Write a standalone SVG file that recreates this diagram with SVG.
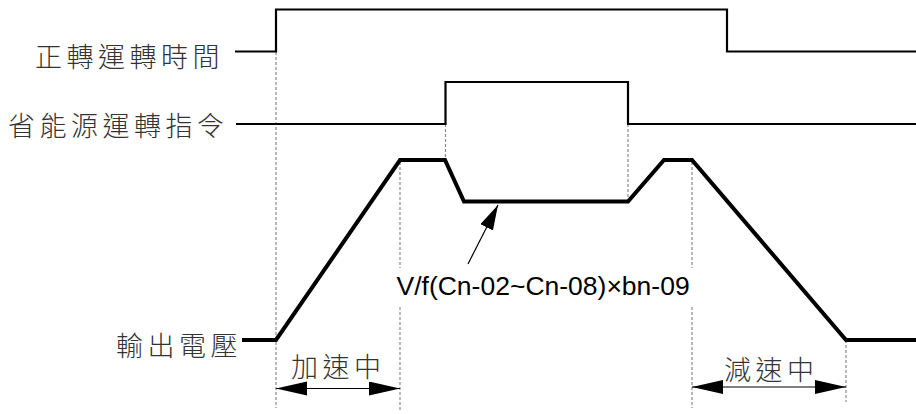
<svg xmlns="http://www.w3.org/2000/svg" width="916" height="414" viewBox="0 0 916 414">
<style>
.sig{fill:none;stroke:#000;stroke-width:2.2;stroke-linejoin:miter}
.out{fill:none;stroke:#000;stroke-width:4;stroke-linejoin:miter}
.dash{fill:none;stroke:#8a8a8a;stroke-width:1.2;stroke-dasharray:3 2}
.dim{fill:none;stroke:#000;stroke-width:1.2}
.cjk{font-family:"Noto Sans CJK TC","Noto Sans CJK JP",sans-serif;font-size:27px;letter-spacing:4.5px;fill:#333;font-weight:300}
.lat{font-family:"Liberation Sans",Arial,sans-serif;font-size:26.5px;fill:#000}
</style>
<defs>
<marker id="ah" markerUnits="userSpaceOnUse" markerWidth="32" markerHeight="16" refX="31" refY="7" orient="auto-start-reverse">
<path d="M0,0 L31,7 L0,14 Z" fill="#000"/>
</marker>
<marker id="ap" markerUnits="userSpaceOnUse" markerWidth="26" markerHeight="16" refX="25" refY="7" orient="auto">
<path d="M0,0 L25,7 L0,14 Z" fill="#000"/>
</marker>
</defs>
<g id="guides">
<line class="dash" x1="276" y1="52" x2="276" y2="408"/>
<line class="dash" x1="400" y1="162" x2="400" y2="410"/>
<line class="dash" x1="445.5" y1="124" x2="445.5" y2="160"/>
<line class="dash" x1="628" y1="124" x2="628" y2="201"/>
<line class="dash" x1="692" y1="162" x2="692" y2="408"/>
<line class="dash" x1="846" y1="340" x2="846" y2="402"/>
</g>
<g id="run-signal">
<polyline class="sig" points="235,51.5 276,51.5 276,9.5 727,9.5 727,51.5 916,51.5"/>
<text class="cjk" x="35" y="67">正轉運轉時間</text>
</g>
<g id="energy-signal">
<polyline class="sig" points="236,124 445.5,124 445.5,82 628,82 628,124 916,124"/>
<text class="cjk" x="8" y="136">省能源運轉指令</text>
</g>
<g id="output-voltage">
<polyline class="out" points="242,340 276,340 400,160 445,160 464,201.5 628,201.5 664,160 692,160 846,340 916,340"/>
<text class="cjk" x="116" y="356">輸出電壓</text>
</g>
<g id="label-vf">
<rect x="395" y="268" width="298" height="37" fill="#fff"/>
<text class="lat" x="396.5" y="295">V/f(Cn-02~Cn-08)×bn-09</text>
</g>
<g id="connectors">
<line class="dim" x1="468" y1="264" x2="498" y2="205" marker-end="url(#ap)"/>
<line class="dim" x1="276" y1="388.5" x2="400" y2="388.5" marker-start="url(#ah)" marker-end="url(#ah)"/>
<line class="dim" x1="692" y1="387" x2="846" y2="387" marker-start="url(#ah)" marker-end="url(#ah)"/>
</g>
<g id="accel">
<text class="cjk" x="291" y="377">加速中</text>
</g>
<g id="decel">
<text class="cjk" x="724" y="380">減速中</text>
</g>
</svg>
